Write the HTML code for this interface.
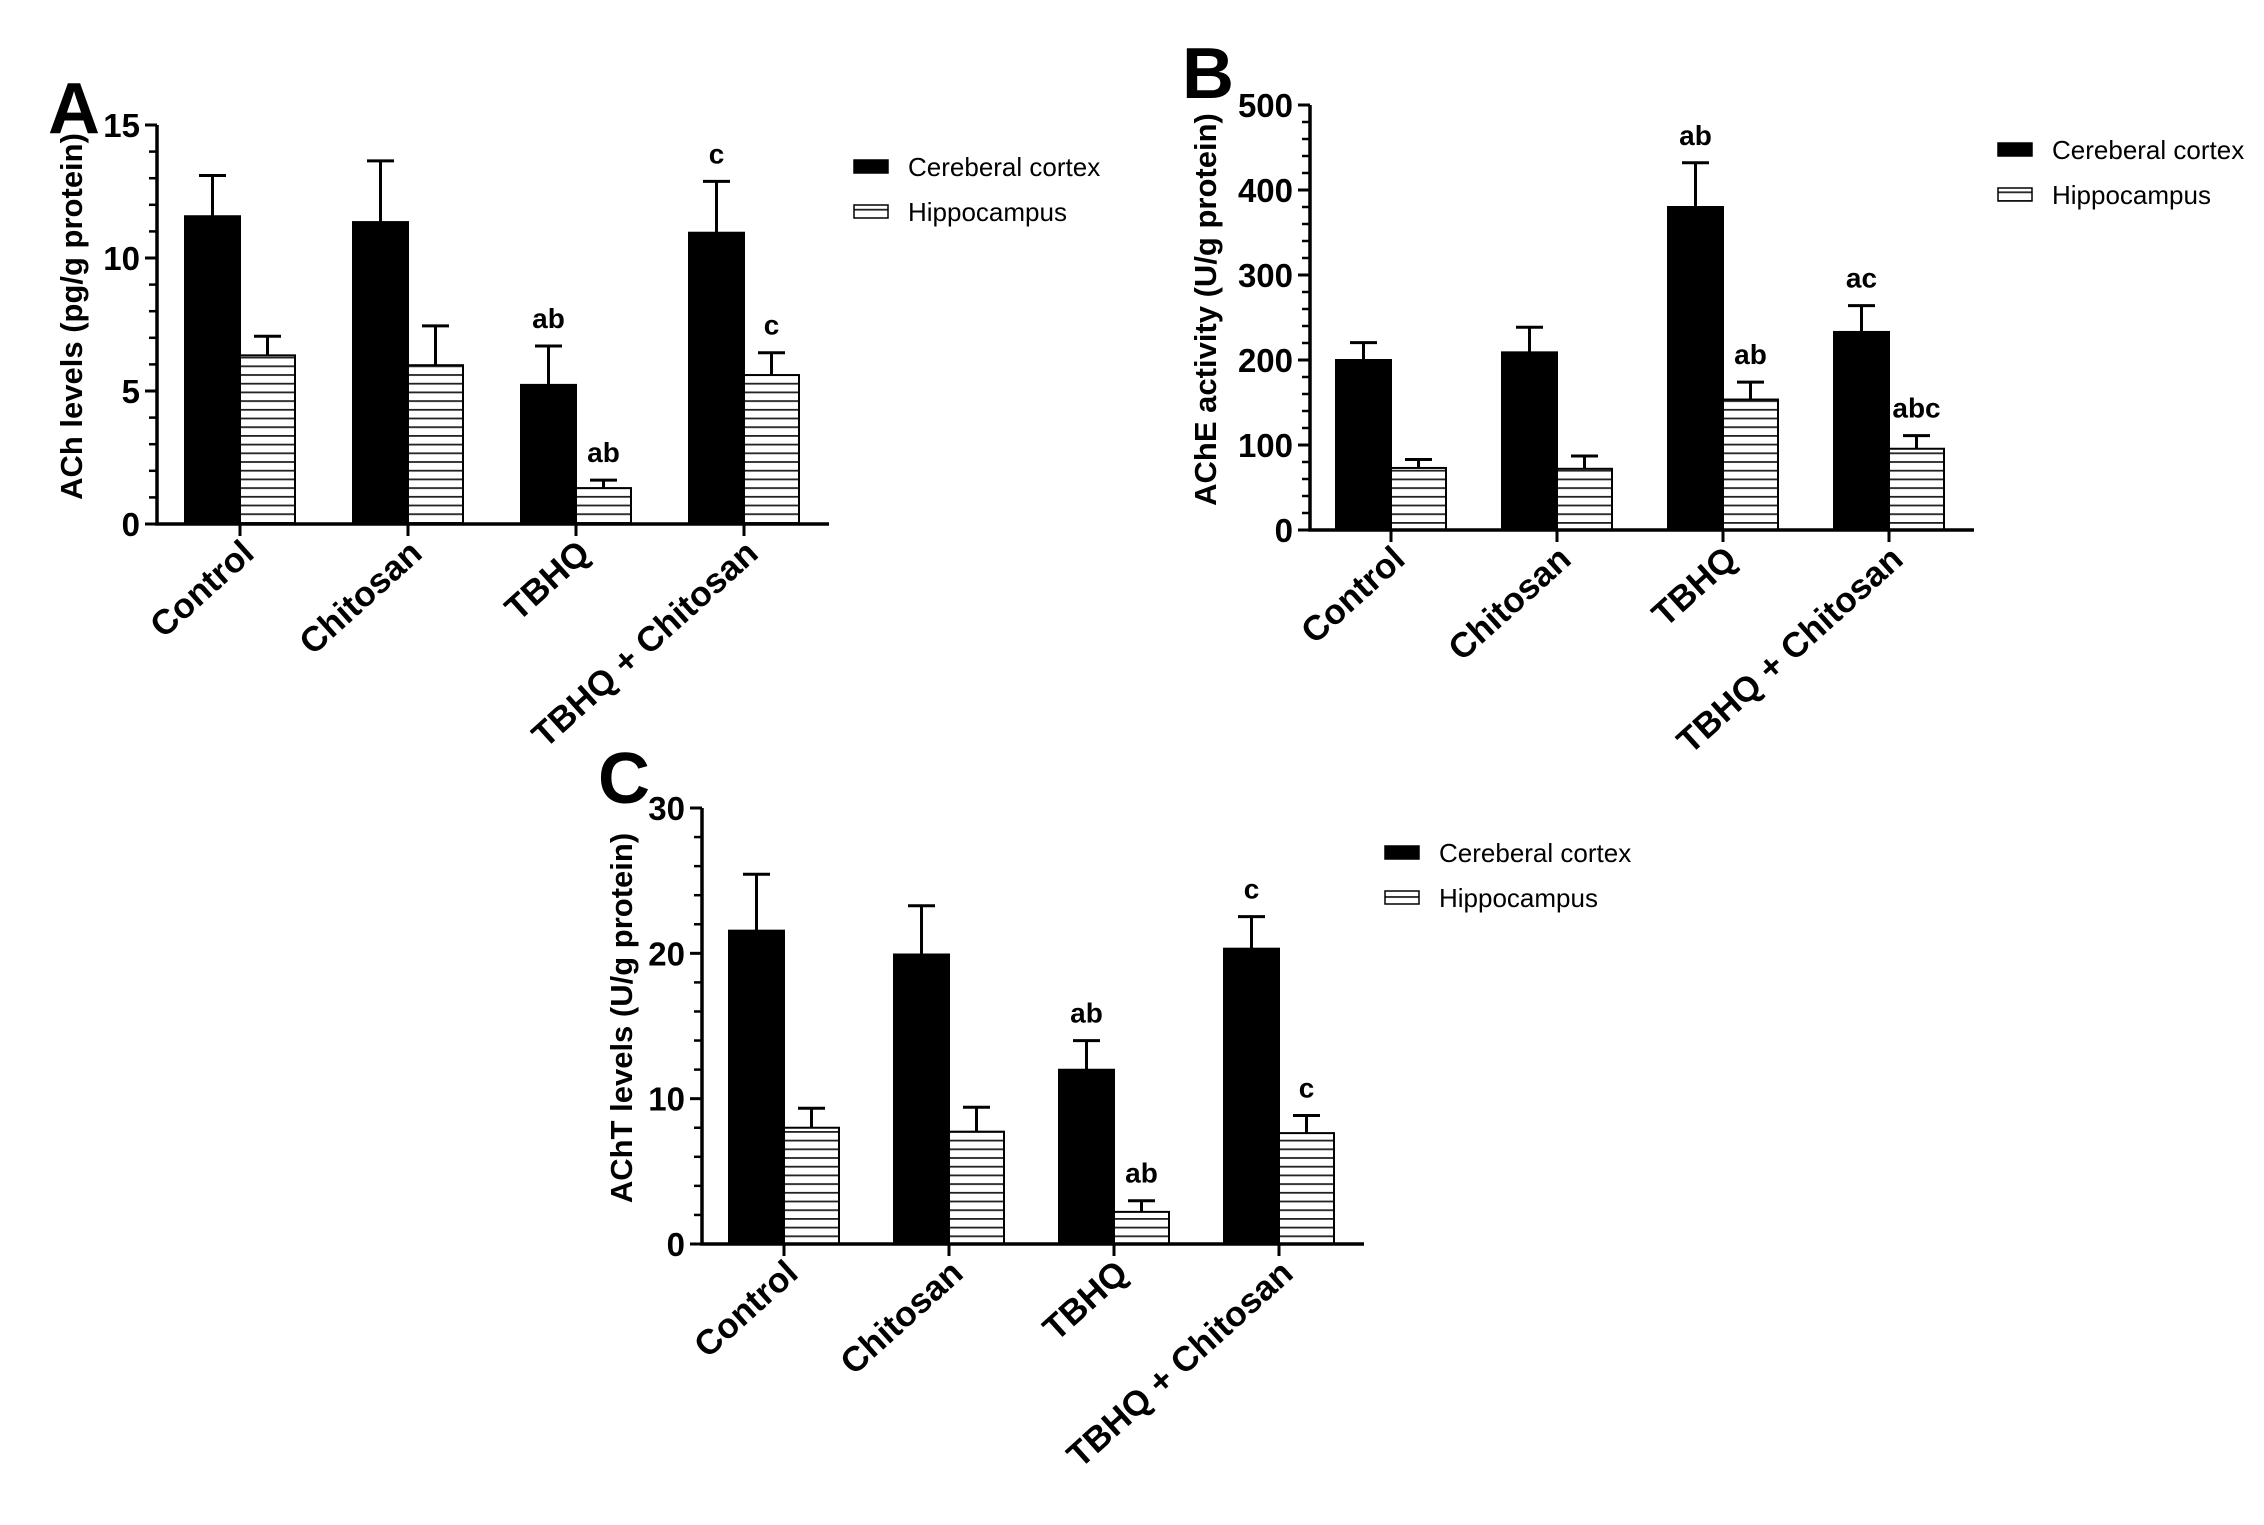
<!DOCTYPE html>
<html><head><meta charset="utf-8"><style>
html,body{margin:0;padding:0;background:#fff;}
svg{display:block;}
text{font-family:"Liberation Sans",Arial,sans-serif;}
</style></head><body>
<svg id="fig" width="2264" height="1525" viewBox="0 0 2264 1525" xmlns="http://www.w3.org/2000/svg">
<defs>
<pattern id="hatch" patternUnits="userSpaceOnUse" width="10" height="8.7">
<rect width="10" height="8.7" fill="#fff"/>
<line x1="0" y1="0.8" x2="10" y2="0.8" stroke="#222" stroke-width="2"/>
</pattern>
</defs>
</svg>
<script>
const categories = ["Control", "Chitosan", "TBHQ", "TBHQ + Chitosan"];
const seriesNames = ["Cereberal cortex", "Hippocampus"];

const aCortex = [11.57, 11.35, 5.23, 10.95];
const aCortexErr = [1.53, 2.3, 1.46, 1.93];
const aHippo = [6.34, 5.97, 1.35, 5.6];
const aHippoErr = [0.72, 1.48, 0.3, 0.84];
const aCortexLetters = ["", "", "ab", "c"];
const aHippoLetters = ["", "", "ab", "c"];
const aTicks = [0, 5, 10, 15];

const bCortex = [200, 209, 380, 233];
const bCortexErr = [20.5, 29.5, 52, 31];
const bHippo = [73, 72, 153.5, 95.6];
const bHippoErr = [10, 15, 20.5, 15.4];
const bCortexLetters = ["", "", "ab", "ac"];
const bHippoLetters = ["", "", "ab", "abc"];
const bTicks = [0, 100, 200, 300, 400, 500];

const cCortex = [21.56, 19.92, 11.99, 20.32];
const cCortexErr = [3.88, 3.35, 2.0, 2.21];
const cHippo = [8.0, 7.73, 2.21, 7.63];
const cHippoErr = [1.34, 1.68, 0.77, 1.21];
const cCortexLetters = ["", "", "ab", "c"];
const cHippoLetters = ["", "", "ab", "c"];
const cTicks = [0, 10, 20, 30];

const svg = document.getElementById('fig');
const NS = "http://www.w3.org/2000/svg";
function mk(tag, attrs, parent){
  const e = document.createElementNS(NS, tag);
  for (const k in attrs) e.setAttribute(k, attrs[k]);
  (parent || svg).appendChild(e);
  return e;
}

function panel(cfg){
  const g = mk('g', {});
  
  
  const x0 = cfg.axisX, y0 = cfg.y0, yTop = cfg.yTop, max = cfg.ticks[cfg.ticks.length-1];
  const yScale = v => y0 - (v / max) * (y0 - yTop);
  const xCenter = i => cfg.firstCenter + i * cfg.spacing;
  const bw = 55;

  const L = mk('text', {x: cfg.letterX, y: cfg.letterY, 'font-size': 72, 'font-weight': 'bold', 'font-family': '"Liberation Sans Narrow","Liberation Sans",sans-serif'}, g);
  L.textContent = cfg.id.toUpperCase();
  
  

  for (let i = 0; i < categories.length; i++){
    const c = xCenter(i);
    const pairs = [
      {v: cfg.cortex[i], e: cfg.cortexErr[i], l: cfg.cortexLetters[i], x: c - bw, fill: '#000', name: 'cortex'},
      {v: cfg.hippo[i], e: cfg.hippoErr[i], l: cfg.hippoLetters[i], x: c, fill: 'url(#hatch)', name: 'hippocampus'}
    ];
    pairs.forEach(p => {
      const yt = yScale(p.v);
      const r = mk('rect', {x: p.x, y: yt, width: bw, height: y0 - yt, fill: p.fill, stroke: '#000', 'stroke-width': 2}, g);
      
      
      const yc = yScale(p.v + p.e);
      const cx = p.x + bw/2;
      const el = mk('path', {d: `M${cx},${yt} V${yc} M${cx-13.5},${yc} H${cx+13.5}`, stroke: '#000', 'stroke-width': 3, fill: 'none'}, g);
      
      
      if (p.l){
        const t = mk('text', {x: cx, y: yc - 18, 'text-anchor': 'middle', 'font-size': 28, 'font-weight': 'bold'}, g);
        t.textContent = p.l;
        
        
      }
    });
    const xt = mk('line', {x1: c, y1: y0, x2: c, y2: y0 + 12, stroke: '#000', 'stroke-width': 3}, g);
    
    
    const lbl = mk('text', {x: 0, y: 0, 'text-anchor': 'end', 'font-size': 35, 'font-weight': 'bold', transform: `translate(${c + 16},${y0 + 32}) rotate(-42)`}, g);
    lbl.textContent = categories[i];
    
    
  }

  const ax = mk('path', {d: `M${x0},${yTop} V${y0} H${cfg.axisEnd}`, stroke: '#000', 'stroke-width': 3.5, fill: 'none'}, g);
  
  
  const step = cfg.ticks[1] - cfg.ticks[0];
  for (let k = 0; k < cfg.ticks.length; k++){
    const v = cfg.ticks[k];
    const y = yScale(v);
    const t = mk('line', {x1: x0 - 12, y1: y, x2: x0, y2: y, stroke: '#000', 'stroke-width': 3}, g);
    
    
    const tl = mk('text', {x: x0 - 17, y: y + 12, 'text-anchor': 'end', 'font-size': 33, 'font-weight': 'bold'}, g);
    tl.textContent = v;
    
    
    if (k < cfg.ticks.length - 1){
      for (let m = 1; m < 5; m++){
        const ym = yScale(v + step * m / 5);
        const mt = mk('line', {x1: x0 - 8, y1: ym, x2: x0, y2: ym, stroke: '#000', 'stroke-width': 2.5}, g);
        
        
      }
    }
  }
  const yt = mk('text', {x: 0, y: 0, 'text-anchor': 'middle', 'font-size': 31, 'font-weight': 'bold', transform: `translate(${cfg.titleX},${(y0 + yTop)/2 - 8}) rotate(-90)`}, g);
  yt.textContent = cfg.title;
  
  

  const lg = mk('g', {}, g);
  
  
  const fills = ['#000', 'url(#hatch)'];
  for (let s = 0; s < 2; s++){
    const ly = cfg.legY + s * 45;
    const sw = mk('rect', {x: cfg.legX, y: ly - 7, width: 34, height: 13, fill: fills[s], stroke: '#000', 'stroke-width': 1.5}, lg);
    
    
    const lt = mk('text', {x: cfg.legX + 54, y: ly + 9, 'font-size': 26}, lg);
    lt.textContent = seriesNames[s];
    
    
  }
}

panel({id:'a', axisX:157, y0:524, yTop:125, axisEnd:829, firstCenter:240, spacing:168,
  ticks:aTicks, cortex:aCortex, cortexErr:aCortexErr, hippo:aHippo, hippoErr:aHippoErr,
  cortexLetters:aCortexLetters, hippoLetters:aHippoLetters,
  title:'ACh levels (pg/g protein)', titleX:82, letterX:48, letterY:133, legX:854, legY:167});
panel({id:'b', axisX:1310, y0:530, yTop:105, axisEnd:1974, firstCenter:1391, spacing:166,
  ticks:bTicks, cortex:bCortex, cortexErr:bCortexErr, hippo:bHippo, hippoErr:bHippoErr,
  cortexLetters:bCortexLetters, hippoLetters:bHippoLetters,
  title:'AChE activity (U/g protein)', titleX:1216, letterX:1182, letterY:98, legX:1998, legY:150});
panel({id:'c', axisX:702, y0:1244, yTop:808, axisEnd:1364, firstCenter:784, spacing:165,
  ticks:cTicks, cortex:cCortex, cortexErr:cCortexErr, hippo:cHippo, hippoErr:cHippoErr,
  cortexLetters:cCortexLetters, hippoLetters:cHippoLetters,
  title:'AChT levels (U/g protein)', titleX:632, letterX:598, letterY:803, legX:1385, legY:853});
</script>
</body></html>
